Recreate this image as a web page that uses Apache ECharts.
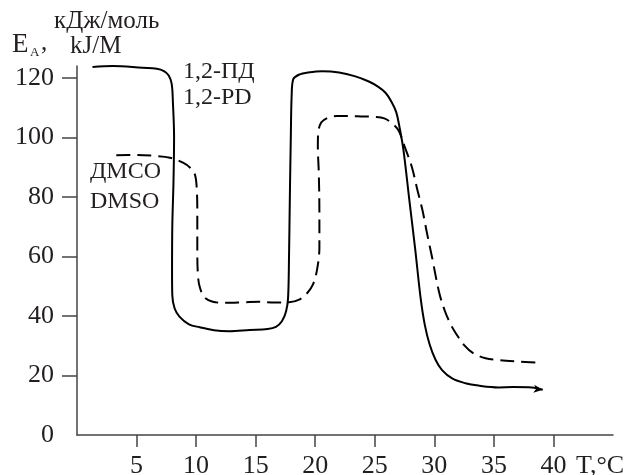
<!DOCTYPE html>
<html>
<head>
<meta charset="utf-8">
<script src="https://cdn.jsdelivr.net/npm/echarts@6/dist/echarts.min.js"></script>
<style>
  html, body { margin: 0; padding: 0; background: #fff; }
  #chart { width: 624px; height: 475px; }
</style>
</head>
<body>
<div id="chart"></div>
<script>
// axis ticks
var xTicks = [5, 10, 15, 20, 25, 30, 35, 40];
var yTicks = [0, 20, 40, 60, 80, 100, 120];

// 1,2-PD (solid) : [T, Ea]
var pdCurve = [
  [1.3, 123.7], [3, 124], [5.5, 123.4], [6.7, 123.1], [7.3, 122.3], [7.7, 120.8],
  [7.95, 118], [8.05, 112], [8.15, 100], [8.1, 85], [8.0, 70], [7.98, 55],
  [8.0, 47], [8.2, 42.5], [8.6, 39.8], [9.4, 37.2], [10.3, 36.2], [11.5, 35.2],
  [12.8, 34.9], [14.5, 35.3], [16.0, 35.6], [16.7, 36.3], [17.2, 38.2], [17.55, 41.5],
  [17.72, 46], [17.8, 60], [17.87, 80], [17.95, 100], [18.02, 114], [18.15, 119.5],
  [18.7, 121.2], [19.4, 121.8], [20.6, 122.2], [22.0, 121.8], [23.3, 120.6],
  [24.5, 118.8], [25.3, 117], [25.9, 115], [26.4, 112], [26.8, 108.5], [27.05, 104],
  [27.4, 96], [27.9, 79], [28.4, 62.2], [28.85, 46], [29.2, 37], [29.6, 30.5],
  [30.1, 25.3], [30.65, 21.8], [31.5, 19], [32.6, 17.4], [33.7, 16.6], [35.4, 16],
  [36.6, 16.1], [38.2, 16.0], [39.1, 15.2]
];

// DMSO (dashed) : [T, Ea]
var dmsoCurve = [
  [3.3, 94], [5, 94.1], [6.5, 93.8], [7.8, 93.2], [8.9, 91.5], [9.5, 89.8],
  [9.9, 87.5], [10.05, 83], [10.1, 75], [10.1, 62], [10.15, 54], [10.3, 49.8],
  [10.7, 46.3], [11.4, 44.8], [12.5, 44.4], [14, 44.6], [15.3, 44.8], [16.6, 44.5],
  [17.8, 44.6], [18.7, 45.6], [19.35, 47.8], [19.8, 50.5], [20.15, 55.5], [20.35, 63],
  [20.35, 75], [20.3, 88], [20.22, 97], [20.25, 101.5], [20.5, 105], [21.0, 106.5],
  [21.8, 107.2], [23.5, 107.1], [25.0, 106.9], [25.8, 106.4], [26.5, 104.6],
  [27.0, 102.3], [27.5, 97], [28.1, 90.2], [28.6, 82], [29.0, 75.6], [29.4, 67.5],
  [29.8, 59.9], [30.4, 48], [30.9, 41.5], [31.4, 37], [31.8, 34.2], [32.5, 30.2],
  [33.3, 27.4], [34.3, 25.8], [35.4, 25.2], [37.0, 24.7], [38.6, 24.3]
];

var textColor = '#231f20';
var serif = '"Liberation Serif", "DejaVu Serif", serif';

var chart = echarts.init(document.getElementById('chart'));

// arrow head at the end of the solid curve
var pdData = pdCurve.map(function (p, i) {
  if (i === pdCurve.length - 1) {
    return { value: p, symbol: 'arrow', symbolSize: [6, 9], symbolRotate: -97 };
  }
  return { value: p, symbol: 'none' };
});

function label(txt, left, top, size) {
  return { type: 'text', left: left, top: top, style: { text: txt, font: size + 'px ' + serif, fill: textColor } };
}

var option = {
  animation: false,
  backgroundColor: '#ffffff',
  grid: { left: 77, right: 11, top: 66, bottom: 40, containLabel: false, outerBoundsMode: 'none' },
  xAxis: {
    type: 'value',
    min: 0,
    max: 45,
    interval: 5,
    splitLine: { show: false },
    axisLine: { lineStyle: { color: '#444', width: 1.5 } },
    axisTick: {
      show: true, length: 12, inside: false,
      customValues: xTicks,
      lineStyle: { color: '#444', width: 1.5 }
    },
    axisLabel: {
      customValues: xTicks,
      margin: 18,
      color: textColor,
      fontFamily: serif,
      fontSize: 26
    }
  },
  yAxis: {
    type: 'value',
    min: 0,
    max: 124,
    interval: 20,
    splitLine: { show: false },
    axisLine: { show: true, lineStyle: { color: '#444', width: 1.5 } },
    axisTick: {
      show: true, length: 15, inside: false,
      customValues: yTicks.slice(1),
      lineStyle: { color: '#444', width: 1.5 }
    },
    axisLabel: {
      customValues: yTicks,
      margin: 23,
      color: textColor,
      fontFamily: serif,
      fontSize: 26
    }
  },
  graphic: [
    label('E', 12, 31, 27),
    label('A', 30, 46, 13),
    label(',', 41, 31, 25),
    label('кДж/моль', 54, 9, 25),
    label('kJ/M', 70, 34, 25),
    label('1,2-ПД', 183, 60, 24),
    label('1,2-PD', 183, 86, 24),
    label('ДМСО', 90, 160, 24),
    label('DMSO', 90, 190, 24),
    label('T,°C', 576, 453, 26)
  ],
  series: [
    {
      name: '1,2-PD',
      type: 'line',
      data: pdData,
      smooth: 0.35,
      showSymbol: true,
      itemStyle: { color: '#000' },
      lineStyle: { color: '#000', width: 2 }
    },
    {
      name: 'DMSO',
      type: 'line',
      data: dmsoCurve,
      smooth: 0.35,
      showSymbol: false,
      symbol: 'none',
      lineStyle: { color: '#000', width: 2, type: [14, 7] }
    }
  ]
};

chart.setOption(option);
</script>
</body>
</html>
